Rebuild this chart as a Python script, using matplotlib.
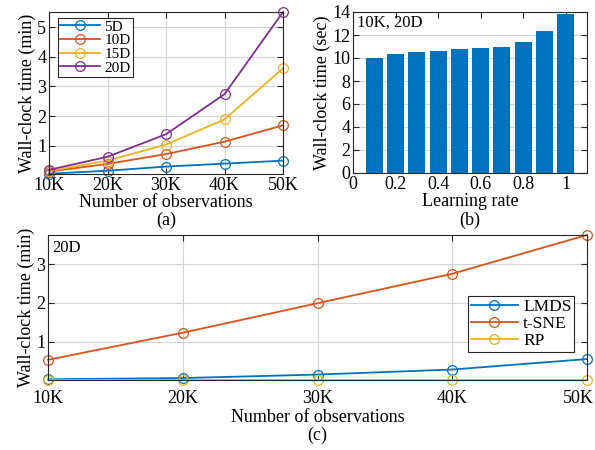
import numpy as np
import matplotlib
matplotlib.use("Agg")
import matplotlib.pyplot as plt
from matplotlib.transforms import ScaledTranslation

plt.rcParams["font.family"] = ["Liberation Serif", "DejaVu Serif"]
plt.rcParams["font.size"] = 13

# (a) runtime vs number of observations for several dimensions
obs = [10, 20, 30, 40, 50]
obs_labels = ["10K", "20K", "30K", "40K", "50K"]
time_5d = [0.06, 0.16, 0.30, 0.40, 0.50]
time_10d = [0.13, 0.39, 0.72, 1.14, 1.69]
time_15d = [0.15, 0.50, 1.04, 1.89, 3.61]
time_20d = [0.19, 0.63, 1.39, 2.74, 5.51]

# (b) runtime vs learning rate
rates = [0.1, 0.2, 0.3, 0.4, 0.5, 0.6, 0.7, 0.8, 0.9, 1.0]
rate_times = [9.96, 10.33, 10.50, 10.62, 10.74, 10.83, 10.97, 11.35, 12.33, 13.83]

# (c) method comparison at 20D
time_lmds = [0.03, 0.06, 0.15, 0.28, 0.55]
time_tsne = [0.53, 1.23, 1.99, 2.75, 3.75]
time_rp = [0.01, 0.01, 0.01, 0.01, 0.01]

BLUE = "#0072BD"
ORANGE = "#D95319"
YELLOW = "#EDB120"
PURPLE = "#7E2F8E"

W, H = 595, 450


def style_axes(ax, xpad=2):
    ax.grid(True, color="#d4d4d4", linewidth=0.8)
    ax.set_axisbelow(True)
    ax.tick_params(direction="in", top=True, right=True, length=4, width=0.8,
                   pad=2, labelsize=13, color="#262626")
    ax.tick_params(axis="x", pad=xpad)
    for s in ax.spines.values():
        s.set_color("#262626")
        s.set_linewidth(0.8)


def px_axes(fig, left, top, right, bottom):
    return fig.add_axes([left / W, 1 - bottom / H, (right - left) / W, (bottom - top) / H])


def line(ax, y, color, label):
    ax.plot(obs, y, color=color, lw=1.3, marker="o", ms=7, mfc="none",
            mec=color, mew=0.9, label=label, clip_on=False)


def legend(ax, **kw):
    leg = ax.legend(frameon=True, fancybox=False, edgecolor="#262626", framealpha=1,
                    handletextpad=0.3, borderaxespad=0, **kw)
    leg.get_frame().set_linewidth(0.8)
    return leg


fig = plt.figure(figsize=(W / 100, H / 100), dpi=100)

# (a)
ax_a = px_axes(fig, 49, 12, 283, 174)
style_axes(ax_a)
line(ax_a, time_5d, BLUE, "5D")
line(ax_a, time_10d, ORANGE, "10D")
line(ax_a, time_15d, YELLOW, "15D")
line(ax_a, time_20d, PURPLE, "20D")
all_a = time_5d + time_10d + time_15d + time_20d
ax_a.set_xlim(obs[0], obs[-1])
ax_a.set_ylim(min(all_a) - 0.01, max(all_a))
ax_a.set_xticks(obs)
ax_a.set_xticklabels(obs_labels)
ax_a.set_yticks([1, 2, 3, 4, 5])
ax_a.set_xlabel("Number of observations", labelpad=0)
ax_a.set_ylabel("Wall-clock time (min)", labelpad=1)
legend(ax_a, loc="upper left", bbox_to_anchor=(0.038, 0.965), fontsize=11,
       borderpad=0.15, labelspacing=0.0, handlelength=2.6)

# (b)
ax_b = px_axes(fig, 353, 12, 587, 173)
style_axes(ax_b)
ax_b.bar(rates, rate_times, width=0.08, color=BLUE, zorder=3)
ax_b.set_xlim(0, 1.1)
ax_b.set_ylim(0, 14)
ax_b.set_xticks([0, 0.2, 0.4, 0.6, 0.8, 1])
ax_b.set_xticklabels(["0", "0.2", "0.4", "0.6", "0.8", "1"])
ax_b.set_yticks(np.arange(0, 15, 2))
ax_b.grid(axis="x", visible=False)
ax_b.set_xlabel("Learning rate", labelpad=0)
ax_b.set_ylabel("Wall-clock time (sec)", labelpad=1)
ax_b.text(0.015, 0.935, "10K, 20D", transform=ax_b.transAxes, fontsize=12,
          ha="left", va="center")

# (c)
ax_c = px_axes(fig, 48, 235, 587, 380)
style_axes(ax_c, xpad=7)
line(ax_c, time_lmds, BLUE, "LMDS")
line(ax_c, time_tsne, ORANGE, "t-SNE")
line(ax_c, time_rp, YELLOW, "RP")
all_c = time_lmds + time_tsne + time_rp
ax_c.set_xlim(obs[0], obs[-1])
ax_c.set_ylim(min(all_c), max(all_c))
ax_c.set_xticks(obs)
ax_c.set_xticklabels(obs_labels)
ax_c.set_yticks([1, 2, 3])
ax_c.set_xlabel("Number of observations", labelpad=2)
ax_c.set_ylabel("Wall-clock time (min)", labelpad=1)
ax_c.text(0.008, 0.91, "20D", transform=ax_c.transAxes, fontsize=12,
          ha="left", va="center")
legend(ax_c, loc="lower right", bbox_to_anchor=(0.976, 0.195), fontsize=12.5,
       borderpad=0.15, labelspacing=0.05, handlelength=2.7)

# keep the last tick label inside the figure, as the original does
last = ax_c.get_xticklabels()[-1]
last.set_transform(last.get_transform() + ScaledTranslation(-9 / 100, 0, fig.dpi_scale_trans))

fig.text(166 / W, 1 - 220 / H, "(a)", ha="center", va="center", fontsize=13)
fig.text(470 / W, 1 - 220 / H, "(b)", ha="center", va="center", fontsize=13)
fig.text(317 / W, 1 - 435 / H, "(c)", ha="center", va="center", fontsize=13)

fig.savefig("out.png", dpi=100)
